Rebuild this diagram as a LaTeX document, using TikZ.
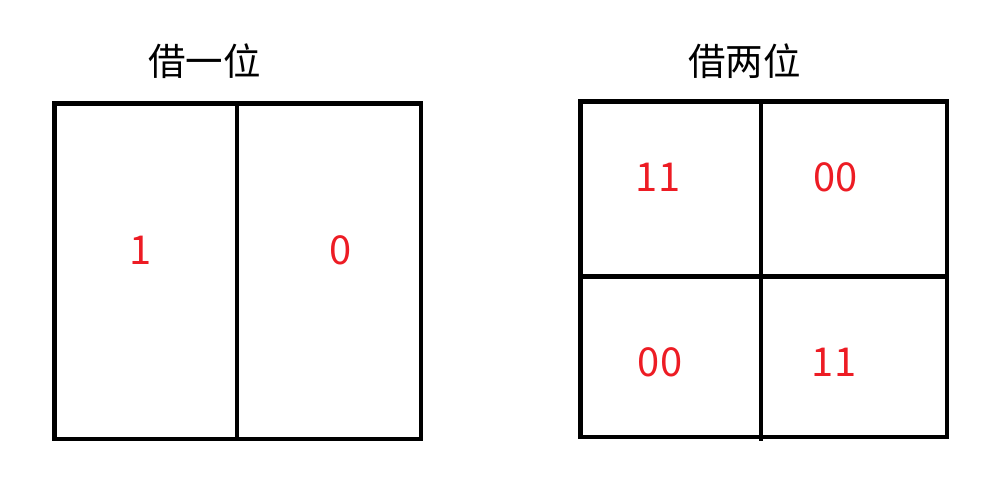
\documentclass[tikz,border=0pt]{standalone}
\usepackage{fontspec}
\newfontfamily\cjk{Noto Sans CJK SC}
\definecolor{digitred}{RGB}{237,28,36}
\tikzset{
	box/.style={line width=4.5*0.03cm},
	title/.style={font=\cjk\fontsize{32}{32}\selectfont, inner sep=0pt},
	bit/.style={font=\cjk\fontsize{34}{34}\selectfont, text=digitred, inner sep=0pt}
}
\begin{document}
\begin{tikzpicture}[x=0.03cm, y=-0.03cm]

	\useasboundingbox (0,0) rectangle (1002,488);

	\draw[box] (54.5, 103.3) rectangle (421, 439);
	\draw[box] (237, 103.3) -- (237, 439);

	\draw[box] (580.5, 101.7) rectangle (947, 437);
	\draw[box] (761, 101.7) -- (761, 441);
	\draw[box] (580.5, 276.5) -- (947, 276.5);

	\node[title] (one) at (204.5, 61) {借一位};
	\node[title] (two) at (744.5, 61) {借两位};

	\node[bit] (oneleft) at (141, 250) {1};
	\node[bit] (oneright) at (341, 250) {0};

	\node[bit] (topleft) at (658, 177) {11};
	\node[bit] (topright) at (835.5, 177) {00};
	\node[bit] (bottomleft) at (660, 362) {00};
	\node[bit] (bottomright) at (834, 362) {11};

\end{tikzpicture}
\end{document}
